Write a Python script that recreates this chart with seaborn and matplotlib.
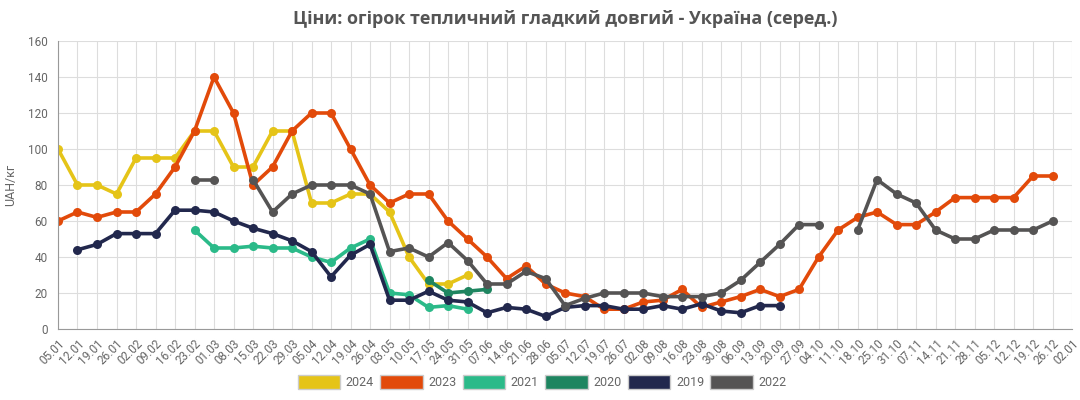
import numpy as np
import pandas as pd
import matplotlib.pyplot as plt
import seaborn as sns
from matplotlib.patches import Patch

# week labels
weeks = ["05.01", "12.01", "19.01", "26.01", "02.02", "09.02", "16.02", "23.02", "01.03",
         "08.03", "15.03", "22.03", "29.03", "05.04", "12.04", "19.04", "26.04", "03.05",
         "10.05", "17.05", "24.05", "31.05", "07.06", "14.06", "21.06", "28.06", "05.07",
         "12.07", "19.07", "26.07", "02.08", "09.08", "16.08", "23.08", "30.08", "06.09",
         "13.09", "20.09", "27.09", "04.10", "11.10", "18.10", "25.10", "31.10", "07.11",
         "14.11", "21.11", "28.11", "05.12", "12.12", "19.12", "26.12", "02.01"]

N = None
# prices, UAH/kg (None = no data)
y2024 = [100, 80, 80, 75, 95, 95, 95, 110, 110, 90, 90, 110, 110, 70, 70, 75, 75, 65, 40, 25, 25, 30]
y2023 = [60, 65, 62, 65, 65, 75, 90, 110, 140, 120, 80, 90, 110, 120, 120, 100, 80, 70, 75, 75,
         60, 50, 40, 28, 35, 25, 20, 18, 11, 11, 15, 16, 22, 12, 15, 18, 22, 18, 22, 40,
         55, 62, 65, 58, 58, 65, 73, 73, 73, 73, 85, 85]
y2021 = [N, N, N, N, N, N, N, 55, 45, 45, 46, 45, 45, 40, 37, 45, 50, 20, 19, 12, 13, 11]
y2020 = [N, N, N, N, N, N, N, N, N, N, N, N, N, N, N, N, N, N, N, 27, 20, 21, 22]
y2019 = [N, 44, 47, 53, 53, 53, 66, 66, 65, 60, 56, 53, 49, 43, 29, 41, 47, 16, 16, 21,
         16, 15, 9, 12, 11, 7, 12, 13, 13, 11, 11, 13, 11, 14, 10, 9, 13, 13]
y2022 = [N, N, N, N, N, N, N, 83, 83, N, 83, 65, 75, 80, 80, 80, 75, 43, 45, 40,
         48, 38, 25, 25, 32, 28, 13, 17, 20, 20, 20, 18, 18, 18, 20, 27, 37, 47, 58, 58,
         N, 55, 83, 75, 70, 55, 50, 50, 55, 55, 55, 60]

series = {"2024": y2024, "2023": y2023, "2021": y2021, "2020": y2020, "2019": y2019, "2022": y2022}
colors = {"2024": "#e5c418", "2023": "#e24a0a", "2021": "#2bba89",
          "2020": "#1e8560", "2019": "#22284d", "2022": "#555454"}

# long table, with a segment id so gaps are not bridged
rows = []
for year, vals in series.items():
    seg = 0
    for i, v in enumerate(vals):
        if v is None:
            seg += 1
            continue
        rows.append({"year": year, "week": i, "price": v, "seg": f"{year}_{seg}"})
df = pd.DataFrame(rows)

sns.set_style("white")
plt.rcParams["font.family"] = ["Roboto", "DejaVu Sans"]

fig = plt.figure(figsize=(10.8, 4), dpi=100)
ax = fig.add_axes([0.0537, 0.1775, 0.939, 0.72])

sns.lineplot(data=df, x="week", y="price", hue="year", units="seg", estimator=None,
             palette=colors, marker="o", markersize=6.5, markeredgewidth=0,
             linewidth=2.6, legend=False, ax=ax, sort=False)

ax.set_xlim(0, len(weeks) - 1)
ax.set_ylim(0, 160)
ax.set_xticks(range(len(weeks)))
ax.set_xticklabels(weeks, rotation=45, ha="right", rotation_mode="anchor", fontsize=8.5, color="#666666")
ax.set_yticks(range(0, 161, 20))
ax.tick_params(axis="y", labelsize=8.5, colors="#666666", length=4, color="#999999")
ax.tick_params(axis="x", length=4, color="#999999", pad=2)
ax.grid(True, color="#dddddd", linewidth=0.8)
ax.set_axisbelow(True)
for s in ["top", "right"]:
    ax.spines[s].set_visible(False)
for s in ["left", "bottom"]:
    ax.spines[s].set_color("#999999")
ax.set_xlabel("")
ax.set_ylabel("UAH/кг", fontsize=9, color="#666666", labelpad=8)

ax.set_title("Ціни: огірок тепличний гладкий довгий - Україна (серед.)",
             fontsize=13, fontweight="bold", color="#555555", pad=12,
             family=["Open Sans", "DejaVu Sans"])

handles = [Patch(facecolor=colors[y], edgecolor="#cccccc", label=y) for y in series]
fig.legend(handles=handles, loc="center", bbox_to_anchor=(0.502, 0.045), ncol=6,
           frameon=False, fontsize=9, handlelength=3.4, handleheight=1.3,
           columnspacing=0.5, handletextpad=0.45, labelcolor="#666666")

fig.savefig("out.png", dpi=100)
